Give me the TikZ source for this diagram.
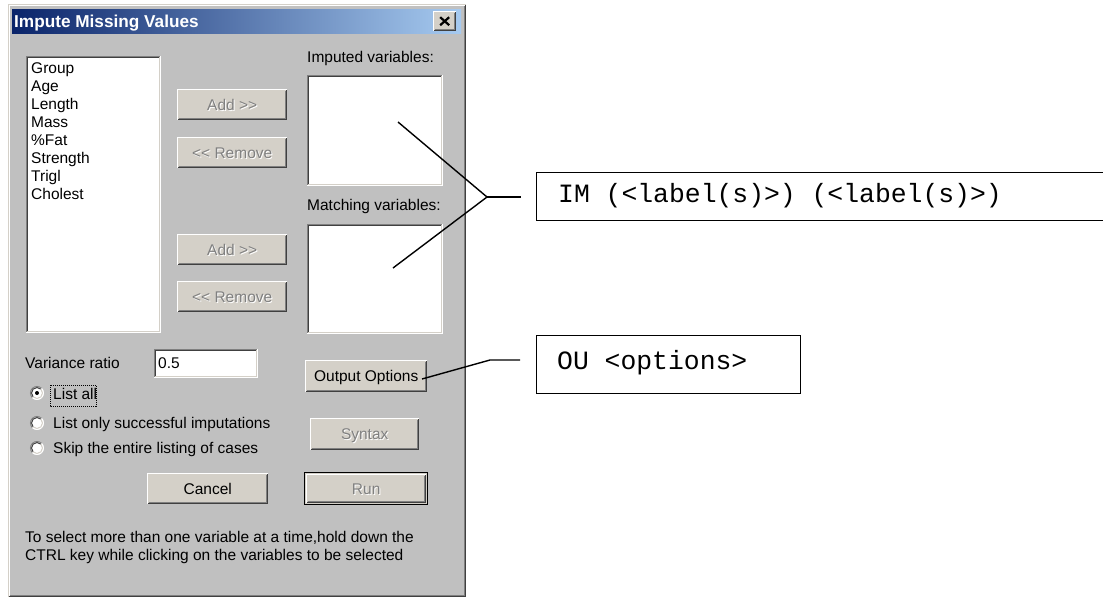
\documentclass[tikz,border=0pt]{standalone}
\usepackage{fontspec}
\setmainfont{Liberation Sans}
\newfontfamily\monofont{Liberation Mono}
\usetikzlibrary{calc}
\definecolor{dlg}{RGB}{192,192,192}
\definecolor{btnface}{RGB}{212,208,200}
\definecolor{shadowc}{RGB}{128,128,128}
\definecolor{dkshadow}{RGB}{64,64,64}
\definecolor{tbleft}{RGB}{10,36,106}
\definecolor{tbright}{RGB}{166,202,240}
\tikzset{
  ui/.style={font=\fontsize{15.5}{18}\selectfont, inner sep=0pt, text height=10.9pt, text depth=0pt},
  uidis/.style={ui, text=shadowc},
  uishade/.style={ui, text=white},
  whitebox/.style={fill=white, draw=none, anchor=north west, inner sep=0pt},
  btnbox/.style={fill=btnface, draw=none, anchor=north west, inner sep=0pt},
  mono/.style={font=\monofont\fontsize{26.4}{30}\selectfont, inner sep=0pt, anchor=west},
  calloutbox/.style={draw=black, line width=1.3pt, fill=white, anchor=north west, inner sep=0pt},
  callline/.style={draw=black, line width=1.4pt},
  edge1/.style={line width=1pt},
}
\newcommand\sunkenedge[1]{%
  \draw[edge1,shadowc] (#1.south west) -- (#1.north west) -- (#1.north east);
  \draw[edge1,white] (#1.south west) -- (#1.south east) -- (#1.north east);
  \draw[edge1,dkshadow] ([shift={(1pt,1pt)}]#1.south west) -- ([shift={(1pt,-1pt)}]#1.north west) -- ([shift={(-1pt,-1pt)}]#1.north east);
  \draw[edge1,btnface] ([shift={(1pt,1pt)}]#1.south west) -- ([shift={(-1pt,1pt)}]#1.south east) -- ([shift={(-1pt,-1pt)}]#1.north east);
}
\newcommand\raisededge[1]{%
  \draw[edge1,white] ([shift={(0.5pt,0.5pt)}]#1.south west) -- ([shift={(0.5pt,-0.5pt)}]#1.north west) -- ([shift={(-0.5pt,-0.5pt)}]#1.north east);
  \draw[edge1,dkshadow] ([shift={(0.5pt,0.5pt)}]#1.south west) -- ([shift={(-0.5pt,0.5pt)}]#1.south east) -- ([shift={(-0.5pt,-0.5pt)}]#1.north east);
  \draw[edge1,shadowc] ([shift={(1.5pt,1.5pt)}]#1.south west) -- ([shift={(-1.5pt,1.5pt)}]#1.south east) -- ([shift={(-1.5pt,-1.5pt)}]#1.north east);
}
\newcommand\radiobtn[2]{%
  \node[circle, fill=white, inner sep=0pt, minimum size=13pt] (#1) at (#2) {};
  \begin{scope}[shift={(#1.center)}, x=1pt, y=1pt]
    \draw[edge1,shadowc] (45:6.5) arc[start angle=45, end angle=225, radius=6.5];
    \draw[edge1,white] (225:6.5) arc[start angle=225, end angle=405, radius=6.5];
    \draw[edge1,dkshadow] (45:5.5) arc[start angle=45, end angle=225, radius=5.5];
    \draw[edge1,btnface] (225:5.5) arc[start angle=225, end angle=405, radius=5.5];
  \end{scope}
}
\begin{document}
\begin{tikzpicture}[x=1pt, y=-1pt]
\useasboundingbox (0,0) rectangle (1103,598);
\fill[white] (0,0) rectangle (1103,598);

% window frame
\node[fill=dlg, anchor=north west, inner sep=0pt, minimum width=458pt, minimum height=593pt] (win) at (8,4) {};
\draw[edge1,btnface] ([shift={(0.5pt,0.5pt)}]win.south west) -- ([shift={(0.5pt,-0.5pt)}]win.north west) -- ([shift={(-0.5pt,-0.5pt)}]win.north east);
\draw[edge1,white] ([shift={(1.5pt,1.5pt)}]win.south west) -- ([shift={(1.5pt,-1.5pt)}]win.north west) -- ([shift={(-1.5pt,-1.5pt)}]win.north east);
\draw[edge1,dkshadow] ([shift={(0.5pt,0.5pt)}]win.south west) -- ([shift={(-0.5pt,0.5pt)}]win.south east) -- ([shift={(-0.5pt,-0.5pt)}]win.north east);
\draw[edge1,shadowc] ([shift={(1.5pt,1.5pt)}]win.south west) -- ([shift={(-1.5pt,1.5pt)}]win.south east) -- ([shift={(-1.5pt,-1.5pt)}]win.north east);

% title bar
\shade[left color=tbleft, right color=tbright] (12,9) rectangle (461,33);
\node[font=\bfseries\fontsize{17.2}{18}\selectfont, text=white, inner sep=0pt, text height=12pt, text depth=0pt, anchor=west] (title) at (14,21) {Impute Missing Values};
\node[btnbox, minimum width=23pt, minimum height=20pt] (closebtn) at (433,11) {};
\raisededge{closebtn}
\draw[line width=2.2pt, black] ($(closebtn.center)+(-4.5pt,-4pt)$) -- ($(closebtn.center)+(4.5pt,4pt)$);
\draw[line width=2.2pt, black] ($(closebtn.center)+(-4.5pt,4pt)$) -- ($(closebtn.center)+(4.5pt,-4pt)$);

% variable list
\node[whitebox, minimum width=134pt, minimum height=276pt] (varlist) at (26,56) {};
\sunkenedge{varlist}
\foreach \t [count=\i] in {Group,Age,Length,Mass,\%Fat,Strength,Trigl,Cholest}
  \node[ui, anchor=west] (var\i) at (31, {50+18*\i}) {\t};

% add / remove buttons
\foreach \n/\y/\t in {addA/89/{Add >{}>}, remA/137/{<{}< Remove}, addB/234/{Add >{}>}, remB/281/{<{}< Remove}} {
  \node[btnbox, minimum width=110pt, minimum height=31pt] (\n) at (177,\y) {};
  \raisededge{\n}
  \node[uishade] at ($(\n.center)+(1pt,-1pt)$) {\t};
  \node[uidis] (\n txt) at (\n.center) {\t};
}

% imputed / matching
\node[ui, anchor=west] (implab) at (307,57) {Imputed variables:};
\node[whitebox, minimum width=135pt, minimum height=110pt] (impbox) at (307,75) {};
\sunkenedge{impbox}
\node[ui, anchor=west] (matlab) at (307,205) {Matching variables:};
\node[whitebox, minimum width=135pt, minimum height=109pt] (matbox) at (307,224) {};
\sunkenedge{matbox}

% variance ratio
\node[ui, anchor=west] (varlab) at (25,363) {Variance ratio};
\node[whitebox, minimum width=103pt, minimum height=28pt] (varfield) at (154,349) {};
\sunkenedge{varfield}
\node[ui, anchor=west] (varval) at (158,363) {0.5};

% output options
\node[btnbox, minimum width=122pt, minimum height=32pt] (outbtn) at (305,360) {};
\raisededge{outbtn}
\node[ui] (outtxt) at (outbtn.center) {Output Options};

% radios
\radiobtn{rad1}{37,393}
\fill[black] (rad1.center) circle[radius=2pt];
\node[ui, anchor=west] (radt1) at (53,394) {List all};
\draw[black, line width=0.8pt, dash pattern=on 1pt off 1pt] (50,385) rectangle (96,406);
\radiobtn{rad2}{37,423}
\node[ui, anchor=west] (radt2) at (53,423) {List only successful imputations};
\radiobtn{rad3}{37,448}
\node[ui, anchor=west] (radt3) at (53,448) {Skip the entire listing of cases};

% syntax
\node[btnbox, minimum width=109pt, minimum height=32pt] (synbtn) at (310,418) {};
\raisededge{synbtn}
\node[uishade] at ($(synbtn.center)+(1pt,-1pt)$) {Syntax};
\node[uidis] (syntxt) at (synbtn.center) {Syntax};

% cancel / run
\node[btnbox, minimum width=121pt, minimum height=31pt] (cancelbtn) at (147,473) {};
\raisededge{cancelbtn}
\node[ui] (canceltxt) at (cancelbtn.center) {Cancel};
\node[btnbox, minimum width=122pt, minimum height=31pt] (runbtn) at (305,473) {};
\draw[black, line width=1pt] ([shift={(-0.5pt,-0.5pt)}]runbtn.south west) rectangle ([shift={(0.5pt,0.5pt)}]runbtn.north east);
\node[btnbox, minimum width=120pt, minimum height=29pt] (runinner) at (306,474) {};
\raisededge{runinner}
\node[uishade] at ($(runbtn.center)+(1pt,-1pt)$) {Run};
\node[uidis] (runtxt) at (runbtn.center) {Run};

% help text
\node[ui, anchor=west] (help1) at (25,537) {To select more than one variable at a time,hold down the};
\node[ui, anchor=west] (help2) at (25,555) {CTRL key while clicking on the variables to be selected};

% callouts
\node[calloutbox, minimum width=580pt, minimum height=48pt] (imbox) at (536,172) {};
\node[mono] (imtxt) at (558,196) {IM (<label(s)>) (<label(s)>)};
\node[calloutbox, minimum width=264pt, minimum height=58pt] (oubox) at (536,335) {};
\node[mono] (outxt) at (557,363) {OU <options>};

\coordinate (imA) at (398,122);
\coordinate (imB) at (393,268);
\coordinate (imJ) at (487,197);
\coordinate (imE) at (521,197);
\draw[callline] (imA) -- (imJ) -- (imB);
\draw[callline] (imJ) -- (imE);

\coordinate (ouA) at (422,379);
\coordinate (ouJ) at (490,360);
\coordinate (ouE) at (520,360);
\draw[callline] (ouA) -- (ouJ) -- (ouE);
\end{tikzpicture}
\end{document}
